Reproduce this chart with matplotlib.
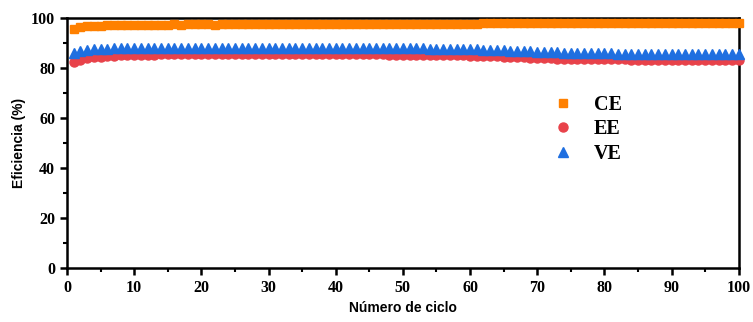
import matplotlib
matplotlib.use("Agg")
import matplotlib.pyplot as plt
import numpy as np
from matplotlib.ticker import MultipleLocator

# cycle numbers and efficiencies (%)
cycles = list(range(1, 101))

ce = [95.6, 96.3, 96.7, 96.9, 97.0, 97.1, 97.2, 97.2, 97.3, 97.3,
      97.3, 97.4, 97.4, 97.4, 97.4, 97.5, 97.4, 97.5, 97.5, 97.5,
      97.5, 97.4, 97.5, 97.5, 97.5, 97.6, 97.5, 97.5, 97.5, 97.6,
      97.5, 97.5, 97.6, 97.5, 97.5, 97.6, 97.5, 97.6, 97.5, 97.6,
      97.6, 97.5, 97.6, 97.6, 97.5, 97.6, 97.6, 97.6, 97.5, 97.6,
      97.6, 97.7, 97.6, 97.7, 97.7, 97.6, 97.7, 97.8, 97.7, 97.8,
      97.8, 97.9, 97.9, 98.0, 98.0, 98.0, 98.1, 98.1, 98.1, 98.2,
      98.2, 98.1, 98.2, 98.2, 98.2, 98.1, 98.2, 98.2, 98.2, 98.2,
      98.2, 98.2, 98.1, 98.2, 98.2, 98.2, 98.2, 98.2, 98.2, 98.1,
      98.2, 98.2, 98.2, 98.2, 98.2, 98.2, 98.1, 98.2, 98.2, 98.2]

ee = [82.3, 83.3, 83.9, 84.3, 84.6, 84.8, 85.0, 85.1, 85.2, 85.3,
      85.3, 85.4, 85.4, 85.5, 85.5, 85.5, 85.6, 85.6, 85.6, 85.7,
      85.7, 85.7, 85.7, 85.7, 85.8, 85.7, 85.7, 85.8, 85.7, 85.7,
      85.7, 85.7, 85.7, 85.7, 85.6, 85.7, 85.7, 85.6, 85.6, 85.6,
      85.6, 85.6, 85.5, 85.5, 85.5, 85.5, 85.5, 85.4, 85.4, 85.4,
      85.4, 85.3, 85.3, 85.3, 85.2, 85.2, 85.2, 85.1, 85.1, 85.0,
      85.0, 84.9, 84.8, 84.7, 84.6, 84.5, 84.4, 84.3, 84.2, 84.1,
      84.0, 83.9, 83.8, 83.8, 83.7, 83.7, 83.6, 83.6, 83.6, 83.5,
      83.5, 83.5, 83.5, 83.4, 83.4, 83.4, 83.4, 83.4, 83.3, 83.3,
      83.3, 83.3, 83.3, 83.3, 83.3, 83.3, 83.3, 83.3, 83.3, 83.3]

ve = [86.0, 86.8, 87.2, 87.5, 87.7, 87.8, 87.9, 87.9, 88.0, 88.0,
      88.0, 88.1, 88.1, 88.1, 88.1, 88.1, 88.2, 88.2, 88.2, 88.2,
      88.2, 88.2, 88.2, 88.2, 88.2, 88.2, 88.2, 88.2, 88.2, 88.2,
      88.2, 88.2, 88.2, 88.2, 88.2, 88.1, 88.1, 88.1, 88.1, 88.1,
      88.1, 88.1, 88.1, 88.0, 88.0, 88.0, 88.0, 88.0, 88.0, 87.9,
      87.9, 87.9, 87.9, 87.8, 87.8, 87.8, 87.7, 87.7, 87.6, 87.6,
      87.5, 87.4, 87.3, 87.2, 87.1, 87.0, 86.9, 86.8, 86.7, 86.6,
      86.5, 86.4, 86.3, 86.2, 86.2, 86.1, 86.1, 86.0, 86.0, 85.9,
      85.9, 85.8, 85.8, 85.8, 85.7, 85.7, 85.7, 85.6, 85.6, 85.6,
      85.6, 85.6, 85.5, 85.5, 85.5, 85.5, 85.5, 85.5, 85.5, 85.5]

fig, ax = plt.subplots(figsize=(7.53, 3.22), dpi=100)
fig.subplots_adjust(left=0.089, right=0.981, top=0.944, bottom=0.168)

ax.plot(cycles, ce, 's', color='#FF8000', markersize=6.3, label='CE', clip_on=False, zorder=3)
ax.plot(cycles, ee, 'o', color='#E8424A', markersize=6.5, label='EE', clip_on=False, zorder=3)
ax.plot(cycles, ve, '^', color='#1F6FE0', markersize=7, label='VE', clip_on=False, zorder=4)

ax.set_xlim(0, 100)
ax.set_ylim(0, 100)
ax.xaxis.set_major_locator(MultipleLocator(10))
ax.xaxis.set_minor_locator(MultipleLocator(5))
ax.yaxis.set_major_locator(MultipleLocator(20))
ax.yaxis.set_minor_locator(MultipleLocator(10))

for s in ax.spines.values():
    s.set_linewidth(1.8)

ax.tick_params(which='major', direction='out', length=5, width=1.8)
ax.tick_params(which='minor', direction='out', length=3, width=1.5)
ax.tick_params(top=False, right=False)

for lbl in ax.get_xticklabels() + ax.get_yticklabels():
    lbl.set_fontfamily('Liberation Serif')
    lbl.set_fontweight('bold')
    lbl.set_fontsize(11.5)

ax.set_xlabel('Número de ciclo', fontfamily='Liberation Sans', fontweight='bold', fontsize=10, labelpad=4)
ax.set_ylabel('Eficiencia (%)', fontfamily='Liberation Sans', fontweight='bold', fontsize=10, labelpad=4)

ax.legend(loc='upper left', bbox_to_anchor=(0.703, 0.724), frameon=False,
          prop={'family': 'Liberation Serif', 'weight': 'bold', 'size': 14.5},
          handletextpad=0.7, handlelength=1.6, labelspacing=0.22, borderaxespad=0)

plt.savefig('out.png', dpi=100)
